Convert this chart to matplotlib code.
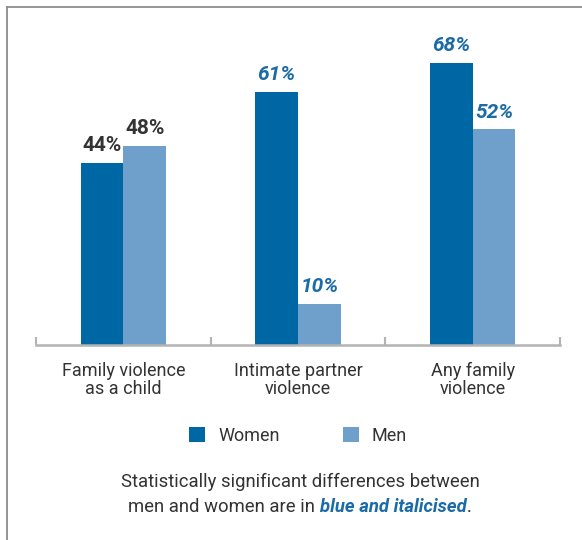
import matplotlib.pyplot as plt
from matplotlib.lines import Line2D
import numpy as np

plt.rcParams['font.family'] = ['Roboto', 'DejaVu Sans']

categories = ['Family violence\nas a child', 'Intimate partner\nviolence', 'Any family\nviolence']
women = [44, 61, 68]
men = [48, 10, 52]
# which pairs differ significantly (labels drawn blue + italic)
significant = [False, True, True]

WOMEN_COL = '#0067a5'
MEN_COL = '#6fa0cc'
SIG_COL = '#1a6ba8'
TEXT_COL = '#333333'
AXIS_COL = '#b3b3b3'

fig = plt.figure(figsize=(5.82, 5.40), dpi=100)
ax = fig.add_axes([36 / 582, 1 - 345 / 540, 524 / 582, 311 / 540])

x = np.arange(len(categories))
w = 0.245
b1 = ax.bar(x - w / 2, women, w, color=WOMEN_COL, label='Women')
b2 = ax.bar(x + w / 2, men, w, color=MEN_COL, label='Men')

for bars, vals in [(b1, women), (b2, men)]:
    for i, (r, v) in enumerate(zip(bars, vals)):
        sig = significant[i]
        ax.annotate(f'{v}%', (r.get_x() + r.get_width() / 2, v),
                    xytext=(0, 5.5), textcoords='offset points',
                    ha='center', va='bottom', fontsize=15, fontweight='bold',
                    style='italic' if sig else 'normal',
                    color=SIG_COL if sig else TEXT_COL)

ax.set_xlim(-0.5, 2.5)
ax.set_ylim(0, 75)
for s in ['top', 'right', 'left']:
    ax.spines[s].set_visible(False)
ax.spines['bottom'].set_color(AXIS_COL)
ax.spines['bottom'].set_linewidth(1.8)
ax.set_yticks([])

# group separators as small upward ticks
ax.set_xticks([-0.5, 0.5, 1.5, 2.5], minor=True)
ax.tick_params(axis='x', which='minor', direction='in', length=6, width=1.5, color=AXIS_COL)
ax.set_xticks(x)
ax.set_xticklabels(categories, fontsize=13, color=TEXT_COL, linespacing=1.05)
ax.tick_params(axis='x', which='major', length=0, pad=12)

leg = fig.legend(handles=[b1, b2], labels=['Women', 'Men'], loc='center',
                 bbox_to_anchor=(298 / 582, 1 - 436 / 540), ncol=2, frameon=False,
                 fontsize=13, handlelength=0.9, handleheight=0.9,
                 columnspacing=3.5, handletextpad=0.72)
for t in leg.get_texts():
    t.set_color(TEXT_COL)

fig.text(300 / 582, 1 - 482 / 540, 'Statistically significant differences between',
         ha='center', va='center', fontsize=13.3, color=TEXT_COL)

# second note line with a bold italic blue fragment
y2 = 1 - 507 / 540
parts = [('men and women are in ', {'color': TEXT_COL}),
         ('blue and italicised', {'color': SIG_COL, 'fontweight': 'bold', 'style': 'italic'}),
         ('.', {'color': TEXT_COL})]
renderer = fig.canvas.get_renderer()
texts = [fig.text(0, y2, s, ha='left', va='center', fontsize=13.3, **kw) for s, kw in parts]
widths = [t.get_window_extent(renderer).width for t in texts]
xpos = 300 - sum(widths) / 2
for t, wd in zip(texts, widths):
    t.set_x(xpos / 582)
    xpos += wd

# outer frame (top and left edges)
fig.add_artist(Line2D([7 / 582, 1], [1 - 7 / 540] * 2, color='#8c8c8c', lw=1.3))
fig.add_artist(Line2D([7 / 582] * 2, [0, 1 - 7 / 540], color='#8c8c8c', lw=1.3))

fig.savefig('out.png', dpi=100)
